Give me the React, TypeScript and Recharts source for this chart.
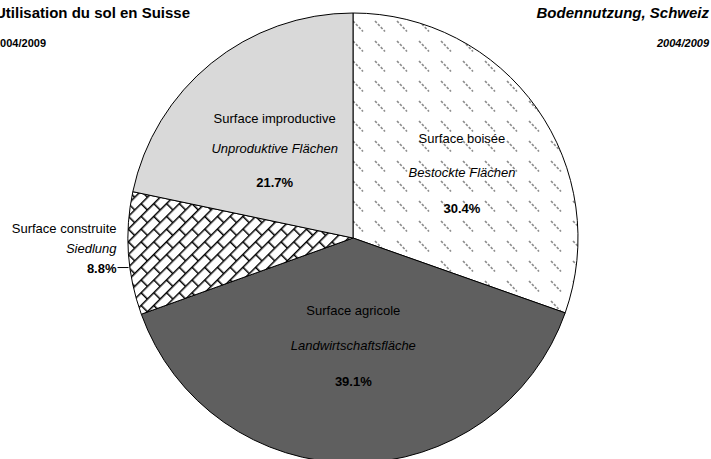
import { PieChart, Pie, Cell } from 'recharts';

const namesFr = ['Surface boisée', 'Surface agricole', 'Surface construite', 'Surface improductive'];
const namesDe = ['Bestockte Flächen', 'Landwirtschaftsfläche', 'Siedlung', 'Unproduktive Flächen'];
const shares = [30.4, 39.1, 8.8, 21.7];
const fills = ['url(#forest)', '#5f5f5f', 'url(#bricks)', '#d9d9d9'];

// label placement: share of radius, angle nudge (deg), gap above / below the middle line
const labelRadius = [0.565, 0.48, 1, 0.53];
const labelTurn = [-4.3, 0, 0, 2];
const gapUp = [34, 35, 20, 30];
const gapDown = [36, 36, 20, 34];

const data = namesFr.map((name, i) => ({ name, de: namesDe[i], value: shares[i] }));

const FONT = '"Liberation Sans", Arial, sans-serif';
const RAD = Math.PI / 180;

function renderLabel(props: any) {
  const { cx, cy, midAngle, outerRadius, index } = props;
  const d = data[index];
  if (index === 2) {
    // outside label with short leader line
    const ox = cx + outerRadius * Math.cos(-midAngle * RAD);
    const oy = cy + outerRadius * Math.sin(-midAngle * RAD) + 14;
    const tx = ox - 12;
    return (
      <g>
        <line x1={ox - 11} y1={oy} x2={ox} y2={oy} stroke="#000" strokeWidth={1} />
        <text x={tx} y={oy - 39} textAnchor="end" dominantBaseline="central" fontFamily={FONT} fontSize={13} fill="#000">
          {d.name}
        </text>
        <text x={tx} y={oy - 19} textAnchor="end" dominantBaseline="central" fontFamily={FONT} fontSize={13} fontStyle="italic" fill="#000">
          {d.de}
        </text>
        <text x={tx} y={oy + 1} textAnchor="end" dominantBaseline="central" fontFamily={FONT} fontSize={13} fontWeight="bold" fill="#000">
          {d.value.toFixed(1)}%
        </text>
      </g>
    );
  }
  const r = outerRadius * labelRadius[index];
  const a = (midAngle + labelTurn[index]) * RAD;
  const x = cx + r * Math.cos(-a);
  const y = cy + r * Math.sin(-a);
  return (
    <g>
      <text x={x} y={y - gapUp[index]} textAnchor="middle" dominantBaseline="central" fontFamily={FONT} fontSize={13} fill="#000">
        {d.name}
      </text>
      <text x={x} y={y} textAnchor="middle" dominantBaseline="central" fontFamily={FONT} fontSize={13} fontStyle="italic" fill="#000">
        {d.de}
      </text>
      <text x={x} y={y + gapDown[index]} textAnchor="middle" dominantBaseline="central" fontFamily={FONT} fontSize={13} fontWeight="bold" fill="#000">
        {d.value.toFixed(1)}%
      </text>
    </g>
  );
}

export default function App() {
  return (
    <div style={{ position: 'absolute', left: 0, top: 0, width: 711, height: 459, overflow: 'hidden', background: '#fff', fontFamily: FONT }}>
      <PieChart width={711} height={459} margin={{ top: 0, right: 0, bottom: 0, left: 0 }}>
        <defs>
          <pattern id="forest" width={22} height={20} patternUnits="userSpaceOnUse">
            <rect width={22} height={20} fill="#fff" />
            <line x1={1} y1={1} x2={11} y2={11.5} stroke="#8c8c8c" strokeWidth={1.6} strokeDasharray="2.6 1.6" />
          </pattern>
          <pattern id="bricks" width={18} height={18} patternUnits="userSpaceOnUse" patternTransform="rotate(-45)">
            <rect width={18} height={18} fill="#fff" />
            <line x1={0} y1={0.75} x2={18} y2={0.75} stroke="#000" strokeWidth={1.5} />
            <line x1={0} y1={9.75} x2={18} y2={9.75} stroke="#000" strokeWidth={1.5} />
            <line x1={0.75} y1={0} x2={0.75} y2={9} stroke="#000" strokeWidth={1.5} />
            <line x1={9.75} y1={9} x2={9.75} y2={18} stroke="#000" strokeWidth={1.5} />
          </pattern>
        </defs>
        <Pie
          data={data}
          dataKey="value"
          nameKey="name"
          cx={353}
          cy={238}
          outerRadius={225}
          startAngle={90}
          endAngle={-270}
          stroke="#000"
          strokeWidth={1}
          label={renderLabel}
          labelLine={false}
          isAnimationActive={false}
        >
          {data.map((d, i) => (
            <Cell key={d.name} fill={fills[i]} />
          ))}
        </Pie>
      </PieChart>
      <div style={{ position: 'absolute', left: -5, top: 4, fontSize: 15, fontWeight: 'bold', whiteSpace: 'nowrap' }}>
        Utilisation du sol en Suisse
      </div>
      <div style={{ position: 'absolute', left: -6, top: 37, fontSize: 11, fontWeight: 'bold', whiteSpace: 'nowrap' }}>
        2004/2009
      </div>
      <div style={{ position: 'absolute', right: 2, top: 4, fontSize: 15, fontWeight: 'bold', fontStyle: 'italic', whiteSpace: 'nowrap' }}>
        Bodennutzung, Schweiz
      </div>
      <div style={{ position: 'absolute', right: 2, top: 37, fontSize: 11, fontWeight: 'bold', fontStyle: 'italic', whiteSpace: 'nowrap' }}>
        2004/2009
      </div>
    </div>
  );
}
